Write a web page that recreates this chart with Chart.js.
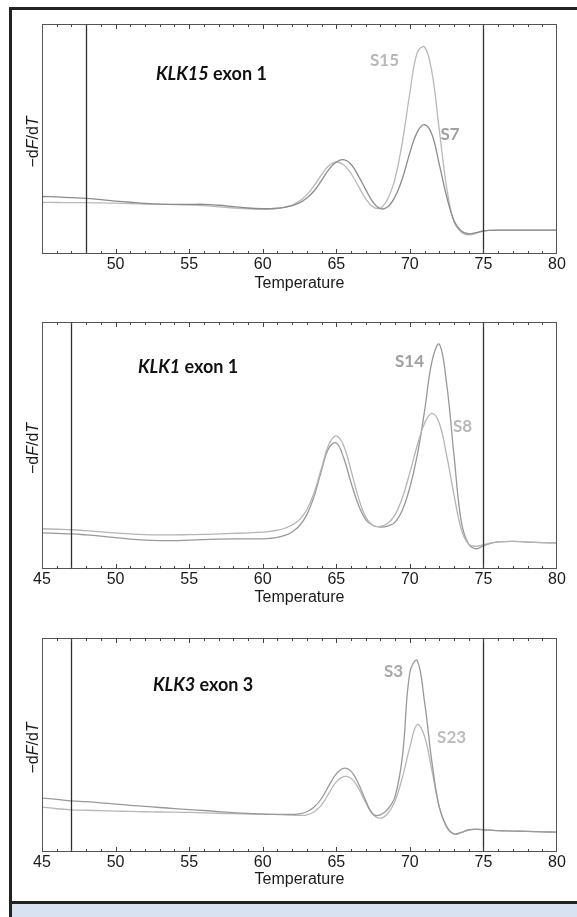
<!DOCTYPE html>
<html>
<head>
<meta charset="utf-8">
<script src="https://cdn.jsdelivr.net/npm/chart.js@4.4.0/dist/chart.umd.min.js"></script>
<style>
  html, body { margin: 0; padding: 0; background: #fff; }
  body { width: 577px; height: 917px; position: relative; overflow: hidden; }
  .frame { position: absolute; left: 9px; top: 7px; width: 568px; height: 897px; box-sizing: border-box;
           border-left: 3px solid #222; border-top: 3px solid #222; border-bottom: 3px solid #222; }
  .strip { position: absolute; left: 12px; top: 904px; width: 565px; height: 13px; background: #d9e2f0; }
  .strip-edge { position: absolute; left: 9px; top: 904px; width: 3px; height: 13px; background: #222; }
  canvas { position: absolute; left: 12px; }
</style>
</head>
<body>
<div class="frame"></div>
<div class="strip-edge"></div>
<div class="strip"></div>
<canvas id="klk15Chart" width="565" height="281" style="top:12px"></canvas>
<canvas id="klk1Chart" width="565" height="311" style="top:296px"></canvas>
<canvas id="klk3Chart" width="565" height="277" style="top:612px"></canvas>
<script>
// Temperature grid shared by all melt curves
const temps = [45, 46, 47, 48, 49, 50, 51, 52, 53, 54, 55, 56, 57, 58, 59, 60,
  60.5, 61, 61.5, 62, 62.5, 63, 63.5, 64, 64.5, 65, 65.5, 66, 66.5, 67, 67.5, 68, 68.5, 69, 69.5, 70,
  70.5, 71, 71.5, 72, 72.5, 73, 73.5, 74, 74.5, 75, 75.5, 76,
  77, 78, 79, 80];

// x axis labels
const tickValues = [45, 50, 55, 60, 65, 70, 75, 80];

// -dF/dT (arbitrary units, 0 = bottom of plot, 1 = top)
const klk15S7 = [.250, .248, .245, .242, .236, .230, .225, .220, .217, .216, .216, .216, .212, .206, .200, .197,
  .197, .199, .203, .210, .222, .243, .275, .320, .368, .400, .410, .390, .340, .280, .225, .197, .205, .250, .330, .440,
  .530, .562, .520, .390, .250, .145, .100, .088, .093, .100, .103, .104,
  .104, .104, .104, .104];
const klk15S15 = [.224, .224, .223, .223, .222, .221, .219, .217, .216, .215, .213, .210, .205, .200, .196, .194,
  .195, .198, .204, .213, .230, .258, .298, .345, .385, .400, .388, .350, .295, .240, .205, .200, .240, .330, .490, .700,
  .875, .900, .790, .540, .290, .140, .095, .083, .090, .100, .103, .104,
  .104, .104, .104, .104];

const klk1S8 = [.163, .161, .159, .155, .150, .146, .142, .139, .138, .138, .139, .140, .142, .144, .146, .149,
  .152, .157, .165, .178, .200, .240, .310, .410, .505, .539, .500, .400, .290, .210, .176, .172, .185, .220, .290, .390,
  .500, .590, .630, .590, .460, .300, .160, .100, .092, .098, .106, .110,
  .112, .109, .107, .106];
const klk1S14 = [.146, .144, .142, .138, .133, .127, .121, .117, .115, .115, .117, .119, .121, .122, .122, .122,
  .124, .128, .136, .150, .175, .220, .295, .400, .490, .510, .450, .350, .260, .200, .176, .170, .174, .190, .240, .330,
  .460, .640, .840, .910, .750, .460, .190, .100, .082, .094, .104, .110,
  .112, .109, .107, .106];

const klk3S3 = [.252, .246, .239, .235, .230, .224, .218, .213, .208, .203, .198, .194, .189, .184, .180, .177,
  .176, .176, .176, .176, .178, .188, .210, .250, .310, .365, .391, .378, .320, .240, .176, .174, .200, .260, .450, .840,
  .895, .700, .420, .210, .120, .085, .092, .104, .107, .104, .102, .100,
  .098, .096, .094, .093];
const klk3S23 = [.210, .202, .197, .195, .193, .191, .190, .188, .187, .186, .185, .183, .181, .179, .178, .177,
  .176, .175, .174, .172, .171, .174, .188, .220, .275, .328, .352, .345, .300, .230, .175, .158, .180, .240, .350, .490,
  .596, .540, .380, .210, .115, .083, .090, .102, .106, .104, .102, .100,
  .098, .096, .094, .093];

// melt-window markers per panel
const klk15Cutoffs = [48, 75];
const klk1Cutoffs = [47, 75];
const klk3Cutoffs = [47, 75];

const axisFont = '"Liberation Sans", Arial, sans-serif';

// frame, inward ticks, cutoff lines, y title and text labels
const panelDecor = {
    id: 'panelDecor',
    afterDatasetsDraw(chart, args, opts) {
        const { ctx, chartArea: a, scales: { x, y } } = chart;
        ctx.save();

        // cutoff lines
        ctx.strokeStyle = '#2e2e2e';
        ctx.lineWidth = 1.3;
        opts.cutoffs.forEach(v => {
            const px = Math.round(x.getPixelForValue(v)) + 0.5;
            ctx.beginPath();
            ctx.moveTo(px, a.top);
            ctx.lineTo(px, a.bottom);
            ctx.stroke();
        });

        // plot frame
        ctx.strokeStyle = '#555';
        ctx.lineWidth = 1;
        ctx.strokeRect(a.left + 0.5, a.top + 0.5, a.right - a.left - 1, a.bottom - a.top - 1);

        // inward ticks, every degree, longer every 5
        ctx.strokeStyle = '#444';
        for (let v = 46; v < 80; v++) {
            const px = Math.round(x.getPixelForValue(v)) + 0.5;
            const len = v % 5 === 0 ? 5 : 3;
            ctx.beginPath();
            ctx.moveTo(px, a.bottom);
            ctx.lineTo(px, a.bottom - len);
            ctx.moveTo(px, a.top);
            ctx.lineTo(px, a.top + len);
            ctx.stroke();
        }

        // y title: -dF/dT with italic F and T
        const parts = [['\u2212d', ''], ['F', 'italic '], ['/d', ''], ['T', 'italic ']];
        ctx.translate(22, (a.top + a.bottom) / 2 + 3);
        ctx.rotate(-Math.PI / 2);
        ctx.fillStyle = '#1a1a1a';
        ctx.textBaseline = 'middle';
        let total = 0;
        parts.forEach(p => { ctx.font = p[1] + '16px ' + axisFont; total += ctx.measureText(p[0]).width; });
        let cx = -total / 2;
        parts.forEach(p => {
            ctx.font = p[1] + '16px ' + axisFont;
            ctx.fillText(p[0], cx, 0);
            cx += ctx.measureText(p[0]).width;
        });
        ctx.setTransform(1, 0, 0, 1, 0, 0);

        // gene title
        ctx.textBaseline = 'alphabetic';
        ctx.fillStyle = '#111';
        let tx = x.getPixelForValue(opts.title.at[0]);
        const ty = y.getPixelForValue(opts.title.at[1]);
        ctx.font = 'italic bold 18px Lato';
        ctx.fillText(opts.title.gene, tx, ty);
        tx += ctx.measureText(opts.title.gene).width;
        ctx.font = 'bold 18px Lato';
        ctx.fillText(' ' + opts.title.rest, tx, ty);

        // sample labels
        ctx.font = 'bold 17px Lato';
        opts.samples.forEach(s => {
            ctx.fillStyle = s.color;
            ctx.fillText(s.text, x.getPixelForValue(s.at[0]), y.getPixelForValue(s.at[1]));
        });

        ctx.restore();
    }
};

function buildPanel(canvasId, cfg) {
    const ctx = document.getElementById(canvasId).getContext('2d');
    return new Chart(ctx, {
        type: 'line',
        data: {
            datasets: cfg.series.map(s => ({
                label: s.name,
                data: temps.map((t, i) => ({ x: t, y: s.values[i] })),
                borderColor: s.color,
                borderWidth: 1.3,
                pointRadius: 0,
                fill: false,
                tension: 0.4
            }))
        },
        options: {
            responsive: false,
            animation: false,
            layout: { padding: { left: 30, right: 20, top: cfg.padTop, bottom: 0 } },
            plugins: {
                legend: { display: false },
                tooltip: { enabled: false },
                panelDecor: { cutoffs: cfg.cutoffs, title: cfg.title, samples: cfg.samples }
            },
            scales: {
                x: {
                    type: 'linear',
                    min: 45,
                    max: 80,
                    grid: { display: false, drawTicks: false },
                    border: { display: false },
                    afterBuildTicks: s => { s.ticks = tickValues.map(v => ({ value: v })); },
                    afterFit: s => { s.height = cfg.axisHeight; },
                    ticks: {
                        padding: 1,
                        maxRotation: 0,
                        color: '#1a1a1a',
                        font: { family: axisFont, size: 16 },
                        callback: v => (cfg.hideFirst && v === 45) ? '' : String(v)
                    },
                    title: {
                        display: true,
                        text: 'Temperature',
                        color: '#1a1a1a',
                        font: { family: axisFont, size: 16 },
                        padding: 0
                    }
                },
                y: { display: false, min: 0, max: 1 }
            }
        },
        plugins: [panelDecor]
    });
}

buildPanel('klk15Chart', {
    padTop: 12, axisHeight: 39, hideFirst: true, cutoffs: klk15Cutoffs,
    title: { gene: 'KLK15', rest: 'exon 1', at: [52.75, 0.757] },
    samples: [
        { text: 'S15', color: '#b8b8b8', at: [67.29, 0.817] },
        { text: 'S7', color: '#a0a0a0', at: [72.08, 0.496] }
    ],
    series: [
        { name: 'S7', values: klk15S7, color: '#8c8c8c' },
        { name: 'S15', values: klk15S15, color: '#b9b9b9' }
    ]
});

buildPanel('klk1Chart', {
    padTop: 26, axisHeight: 38, hideFirst: false, cutoffs: klk1Cutoffs,
    title: { gene: 'KLK1', rest: 'exon 1', at: [51.52, 0.794] },
    samples: [
        { text: 'S14', color: '#a0a0a0', at: [68.99, 0.818] },
        { text: 'S8', color: '#b8b8b8', at: [72.93, 0.555] }
    ],
    series: [
        { name: 'S8', values: klk1S8, color: '#b5b5b5' },
        { name: 'S14', values: klk1S14, color: '#999999' }
    ]
});

buildPanel('klk3Chart', {
    padTop: 26, axisHeight: 37, hideFirst: false, cutoffs: klk3Cutoffs,
    title: { gene: 'KLK3', rest: 'exon 3', at: [52.54, 0.752] },
    samples: [
        { text: 'S3', color: '#a8a8a8', at: [68.24, 0.818] },
        { text: 'S23', color: '#bdbdbd', at: [71.85, 0.509] }
    ],
    series: [
        { name: 'S3', values: klk3S3, color: '#999999' },
        { name: 'S23', values: klk3S23, color: '#b8b8b8' }
    ]
});
</script>
</body>
</html>
